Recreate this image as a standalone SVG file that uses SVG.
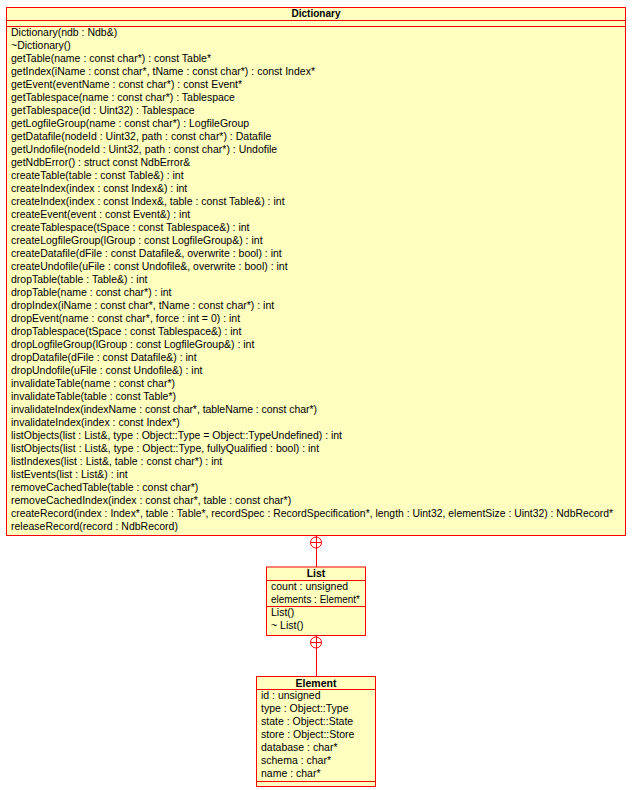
<svg xmlns="http://www.w3.org/2000/svg" width="635" height="790" viewBox="0 0 635 790">
<style>
.box{fill:#ffffc0;stroke:#ff0000;stroke-width:1}
.ln{stroke:#ff0000;stroke-width:1;fill:none}
text{font-family:"Liberation Sans",Arial,sans-serif;font-size:10.5px;fill:#000}
.t{font-weight:bold;text-anchor:middle}
</style>
<rect width="635" height="790" fill="#fff"/>
<g id="connectors">
<line class="ln" x1="316.5" y1="536" x2="316.5" y2="567"/>
<circle class="ln" cx="316" cy="542.5" r="5.5"/>
<line class="ln" x1="310.5" y1="542.5" x2="321.5" y2="542.5"/>
<line class="ln" x1="316.5" y1="636" x2="316.5" y2="676"/>
<circle class="ln" cx="316" cy="642.5" r="5.5"/>
<line class="ln" x1="310.5" y1="642.5" x2="321.5" y2="642.5"/>
</g>
<g id="Dictionary">
<rect class="box" x="6.5" y="7.5" width="619" height="528"/>
<line class="ln" x1="6.5" y1="20.5" x2="625.5" y2="20.5"/>
<line class="ln" x1="6.5" y1="26.5" x2="625.5" y2="26.5"/>
<text class="t" x="316" y="17" textLength="49" lengthAdjust="spacingAndGlyphs">Dictionary</text>
<text x="11" y="36">Dictionary(ndb : Ndb&amp;)</text>
<text x="11" y="49">~Dictionary()</text>
<text x="11" y="62">getTable(name : const char*) : const Table*</text>
<text x="11" y="75" textLength="304">getIndex(iName : const char*, tName : const char*) : const Index*</text>
<text x="11" y="88">getEvent(eventName : const char*) : const Event*</text>
<text x="11" y="101">getTablespace(name : const char*) : Tablespace</text>
<text x="11" y="114">getTablespace(id : Uint32) : Tablespace</text>
<text x="11" y="127">getLogfileGroup(name : const char*) : LogfileGroup</text>
<text x="11" y="140">getDatafile(nodeId : Uint32, path : const char*) : Datafile</text>
<text x="11" y="153">getUndofile(nodeId : Uint32, path : const char*) : Undofile</text>
<text x="11" y="166">getNdbError() : struct const NdbError&amp;</text>
<text x="11" y="179">createTable(table : const Table&amp;) : int</text>
<text x="11" y="192">createIndex(index : const Index&amp;) : int</text>
<text x="11" y="205">createIndex(index : const Index&amp;, table : const Table&amp;) : int</text>
<text x="11" y="218">createEvent(event : const Event&amp;) : int</text>
<text x="11" y="231">createTablespace(tSpace : const Tablespace&amp;) : int</text>
<text x="11" y="244">createLogfileGroup(lGroup : const LogfileGroup&amp;) : int</text>
<text x="11" y="257">createDatafile(dFile : const Datafile&amp;, overwrite : bool) : int</text>
<text x="11" y="270">createUndofile(uFile : const Undofile&amp;, overwrite : bool) : int</text>
<text x="11" y="283">dropTable(table : Table&amp;) : int</text>
<text x="11" y="296">dropTable(name : const char*) : int</text>
<text x="11" y="309">dropIndex(iName : const char*, tName : const char*) : int</text>
<text x="11" y="322">dropEvent(name : const char*, force : int = 0) : int</text>
<text x="11" y="335">dropTablespace(tSpace : const Tablespace&amp;) : int</text>
<text x="11" y="348">dropLogfileGroup(lGroup : const LogfileGroup&amp;) : int</text>
<text x="11" y="361">dropDatafile(dFile : const Datafile&amp;) : int</text>
<text x="11" y="374">dropUndofile(uFile : const Undofile&amp;) : int</text>
<text x="11" y="387">invalidateTable(name : const char*)</text>
<text x="11" y="400">invalidateTable(table : const Table*)</text>
<text x="11" y="413" textLength="306">invalidateIndex(indexName : const char*, tableName : const char*)</text>
<text x="11" y="426">invalidateIndex(index : const Index*)</text>
<text x="11" y="439" textLength="331">listObjects(list : List&amp;, type : Object::Type = Object::TypeUndefined) : int</text>
<text x="11" y="452">listObjects(list : List&amp;, type : Object::Type, fullyQualified : bool) : int</text>
<text x="11" y="465">listIndexes(list : List&amp;, table : const char*) : int</text>
<text x="11" y="478">listEvents(list : List&amp;) : int</text>
<text x="11" y="491">removeCachedTable(table : const char*)</text>
<text x="11" y="504">removeCachedIndex(index : const char*, table : const char*)</text>
<text x="11" y="517" textLength="602" lengthAdjust="spacingAndGlyphs">createRecord(index : Index*, table : Table*, recordSpec : RecordSpecification*, length : Uint32, elementSize : Uint32) : NdbRecord*</text>
<text x="11" y="530">releaseRecord(record : NdbRecord)</text>
</g>
<g id="List">
<rect class="box" x="266.5" y="567" width="99" height="68.5"/>
<line class="ln" x1="266.5" y1="580.5" x2="365.5" y2="580.5"/>
<line class="ln" x1="266.5" y1="606.5" x2="365.5" y2="606.5"/>
<text class="t" x="316" y="577">List</text>
<text x="271" y="590">count : unsigned</text>
<text x="271" y="603" textLength="89" lengthAdjust="spacingAndGlyphs">elements : Element*</text>
<text x="271" y="616">List()</text>
<text x="271" y="629">~ List()</text>
</g>
<g id="Element">
<rect class="box" x="256.5" y="676.5" width="119" height="110"/>
<line class="ln" x1="256.5" y1="689.5" x2="375.5" y2="689.5"/>
<line class="ln" x1="256.5" y1="781.5" x2="375.5" y2="781.5"/>
<text class="t" x="316" y="687">Element</text>
<text x="261" y="699">id : unsigned</text>
<text x="261" y="712">type : Object::Type</text>
<text x="261" y="725">state : Object::State</text>
<text x="261" y="738">store : Object::Store</text>
<text x="261" y="751">database : char*</text>
<text x="261" y="764">schema : char*</text>
<text x="261" y="777">name : char*</text>
</g>
</svg>
